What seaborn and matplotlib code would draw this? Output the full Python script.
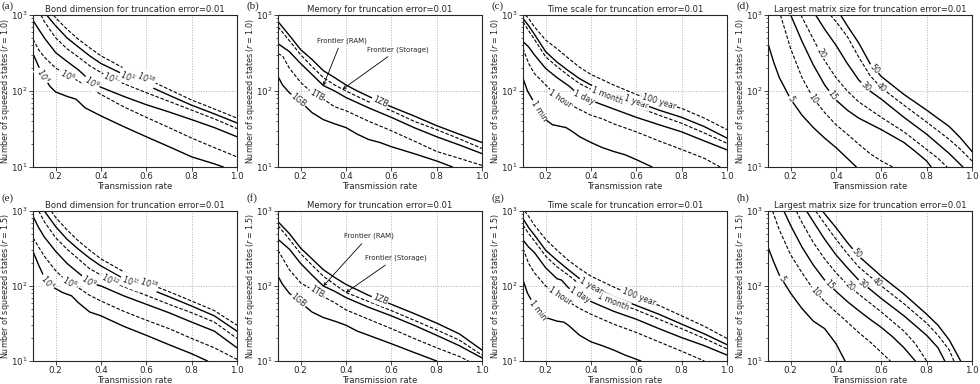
import numpy as np
import matplotlib
matplotlib.use("Agg")
import matplotlib.pyplot as plt
import seaborn as sns

# each curve: label -> (transmission rate, number of squeezed states)
# listed bottom to top, styles alternate solid / dashed

bond_r10 = {
    "$10^{4}$": ([0.1, 0.125, 0.15, 0.175, 0.2, 0.25, 0.29, 0.33, 0.4, 0.5, 0.6, 0.7, 0.8, 0.9, 0.94],
                 [310, 210, 150, 115, 97, 85, 78, 60, 47, 34, 25, 18.5, 13.6, 11, 10]),
    "$10^{6}$": ([0.1, 0.125, 0.15, 0.2, 0.25, 0.3, 0.35, 0.4, 0.5, 0.6, 0.7, 0.8, 0.9, 1.0],
                 [480, 350, 280, 200, 165, 135, 110, 90, 62, 45, 33, 24, 18, 13.6]),
    "$10^{9}$": ([0.1, 0.125, 0.15, 0.2, 0.25, 0.3, 0.36, 0.4, 0.5, 0.6, 0.7, 0.8, 0.9, 1.0],
                 [850, 650, 500, 320, 245, 190, 130, 112, 85, 66, 53, 42, 33, 25]),
    "$10^{12}$": ([0.135, 0.15, 0.2, 0.25, 0.3, 0.35, 0.4, 0.45, 0.5, 0.6, 0.7, 0.8, 0.9, 1.0],
                  [1000, 820, 500, 360, 280, 215, 175, 145, 125, 95, 73, 56, 43, 32]),
    "$10^{15}$": ([0.16, 0.2, 0.25, 0.3, 0.35, 0.4, 0.5, 0.6, 0.7, 0.8, 0.9, 1.0],
                  [1000, 720, 500, 380, 290, 230, 165, 120, 88, 65, 50, 38]),
    "$10^{18}$": ([0.19, 0.2, 0.25, 0.3, 0.35, 0.4, 0.5, 0.6, 0.7, 0.8, 0.9, 1.0],
                  [1000, 920, 650, 480, 370, 290, 200, 145, 105, 76, 58, 44]),
}
bond_r15 = {
    "$10^{4}$": ([0.1, 0.125, 0.15, 0.18, 0.2, 0.23, 0.27, 0.3, 0.35, 0.4, 0.5, 0.6, 0.7, 0.8, 0.87],
                 [290, 190, 130, 100, 92, 82, 74, 60, 45, 40, 29, 22, 16.5, 12.5, 10]),
    "$10^{6}$": ([0.1, 0.125, 0.15, 0.2, 0.25, 0.3, 0.35, 0.4, 0.5, 0.6, 0.7, 0.8, 0.9, 1.0],
                 [440, 330, 250, 160, 115, 95, 75, 63, 46, 35, 27, 20, 15, 10.5]),
    "$10^{9}$": ([0.1, 0.125, 0.15, 0.2, 0.25, 0.3, 0.35, 0.4, 0.5, 0.6, 0.7, 0.8, 0.9, 1.0],
                 [850, 600, 450, 290, 200, 150, 112, 100, 74, 57, 44, 33, 25, 15]),
    "$10^{12}$": ([0.125, 0.15, 0.2, 0.25, 0.3, 0.35, 0.4, 0.45, 0.5, 0.6, 0.7, 0.8, 0.9, 1.0],
                  [1000, 720, 440, 310, 230, 170, 140, 115, 98, 75, 57, 44, 33, 20]),
    "$10^{15}$": ([0.15, 0.2, 0.25, 0.3, 0.35, 0.4, 0.5, 0.6, 0.7, 0.8, 0.9, 1.0],
                  [1000, 620, 420, 310, 235, 185, 125, 95, 72, 54, 40, 25]),
    "$10^{18}$": ([0.18, 0.2, 0.25, 0.3, 0.35, 0.4, 0.5, 0.6, 0.7, 0.8, 0.9, 1.0],
                  [1000, 820, 560, 400, 300, 230, 155, 110, 84, 63, 47, 30]),
}
bond_label_x_r10 = [0.145, 0.255, 0.36, 0.45, 0.525, 0.6]
bond_label_x_r15 = [0.165, 0.26, 0.345, 0.44, 0.53, 0.61]

memory_r10 = {
    "1GB": ([0.1, 0.12, 0.15, 0.2, 0.25, 0.3, 0.35, 0.4, 0.45, 0.5, 0.55, 0.6, 0.7, 0.8, 0.87],
            [155, 120, 95, 72, 52, 42, 37, 33, 27, 23, 21, 18.5, 15, 12, 10]),
    "1TB": ([0.1, 0.12, 0.15, 0.2, 0.25, 0.3, 0.35, 0.4, 0.5, 0.6, 0.7, 0.8, 0.9, 1.0],
            [310, 290, 200, 130, 95, 78, 62, 55, 40, 30, 22, 16, 13, 10.5]),
    "RAM": ([0.1, 0.15, 0.2, 0.25, 0.3, 0.35, 0.4, 0.5, 0.6, 0.7, 0.8, 0.9, 1.0],
            [420, 330, 230, 165, 118, 100, 82, 60, 45, 33, 25, 19.5, 15]),
    "Storage": ([0.1, 0.15, 0.2, 0.25, 0.3, 0.35, 0.4, 0.5, 0.6, 0.7, 0.8, 0.9, 1.0],
                [700, 460, 300, 210, 150, 120, 100, 72, 55, 40, 31, 23.5, 17.5]),
    "1ZB": ([0.1, 0.15, 0.2, 0.25, 0.3, 0.35, 0.4, 0.45, 0.5, 0.55, 0.6, 0.7, 0.8, 0.9, 1.0],
            [820, 540, 350, 260, 185, 150, 120, 100, 85, 72, 62, 47, 35, 27, 21]),
}
memory_r15 = {
    "1GB": ([0.1, 0.12, 0.15, 0.2, 0.25, 0.3, 0.35, 0.4, 0.45, 0.5, 0.6, 0.7, 0.8],
            [135, 105, 80, 60, 45, 38, 34, 30, 25, 22, 17, 13, 10]),
    "1TB": ([0.1, 0.15, 0.2, 0.25, 0.3, 0.35, 0.4, 0.5, 0.6, 0.7, 0.8, 0.9, 0.94],
            [300, 165, 110, 90, 72, 60, 48, 36, 27, 20, 15, 11.5, 10]),
    "RAM": ([0.1, 0.15, 0.2, 0.25, 0.3, 0.35, 0.4, 0.5, 0.6, 0.7, 0.8, 0.9, 1.0],
            [420, 310, 200, 140, 100, 85, 70, 52, 40, 30, 22, 16, 11]),
    "Storage": ([0.1, 0.15, 0.2, 0.25, 0.3, 0.35, 0.4, 0.5, 0.6, 0.7, 0.8, 0.9, 1.0],
                [640, 420, 270, 190, 135, 105, 82, 62, 47, 35, 26, 19, 12]),
    "1ZB": ([0.1, 0.15, 0.2, 0.25, 0.3, 0.35, 0.4, 0.5, 0.6, 0.7, 0.8, 0.9, 1.0],
            [720, 500, 320, 230, 165, 130, 105, 75, 57, 43, 32, 23, 14]),
}
memory_label_x = [0.19, 0.27, None, None, 0.55]
frontier_r10 = {"ram_tip": 0.3, "ram_text": (0.38, 420), "storage_tip": 0.385, "storage_text": (0.63, 320)}
frontier_r15 = {"ram_tip": 0.3, "ram_text": (0.5, 420), "storage_tip": 0.4, "storage_text": (0.62, 215)}

time_r10 = {
    "1 min": ([0.1, 0.12, 0.15, 0.17, 0.2, 0.23, 0.25, 0.29, 0.32, 0.35, 0.4, 0.45, 0.5, 0.55, 0.6, 0.67],
              [147, 100, 70, 55, 42, 36, 35, 33, 29, 25, 21, 18, 16, 14.5, 12.5, 10]),
    "1 hour": ([0.1, 0.125, 0.15, 0.2, 0.25, 0.3, 0.35, 0.4, 0.45, 0.5, 0.6, 0.7, 0.8, 0.9, 0.97],
               [364, 230, 170, 120, 85, 68, 57, 48, 43, 37, 29, 22, 17, 13, 10]),
    "1 day": ([0.1, 0.125, 0.15, 0.2, 0.25, 0.3, 0.35, 0.4, 0.5, 0.6, 0.7, 0.8, 0.9, 1.0],
              [447, 380, 300, 198, 150, 118, 88, 75, 58, 45, 36, 29, 22, 16.8]),
    "1 month": ([0.1, 0.125, 0.15, 0.2, 0.25, 0.3, 0.35, 0.4, 0.5, 0.6, 0.7, 0.8, 0.9, 1.0],
                [816, 620, 480, 282, 210, 160, 125, 105, 80, 62, 48, 37.6, 28, 20.5]),
    "1 year": ([0.1, 0.125, 0.15, 0.2, 0.25, 0.3, 0.35, 0.4, 0.5, 0.6, 0.7, 0.8, 0.9, 1.0],
               [904, 720, 560, 329, 240, 185, 145, 120, 92, 72, 56, 45, 34, 24]),
    "100 year": ([0.11, 0.125, 0.15, 0.2, 0.25, 0.3, 0.35, 0.4, 0.5, 0.6, 0.7, 0.8, 0.9, 1.0],
                 [1000, 900, 700, 468, 360, 270, 205, 165, 120, 90, 72, 59, 44, 31]),
}
time_r15 = {
    "1 min": ([0.1, 0.12, 0.15, 0.18, 0.2, 0.25, 0.28, 0.3, 0.35, 0.4, 0.45, 0.5, 0.55, 0.62],
              [120, 80, 55, 42, 38, 34, 33, 30, 22, 18, 16, 14, 12, 10]),
    "1 hour": ([0.1, 0.125, 0.15, 0.2, 0.25, 0.3, 0.35, 0.4, 0.5, 0.6, 0.7, 0.8, 0.9],
               [315, 200, 150, 100, 78, 62, 50, 42, 31, 24, 18, 13.5, 10]),
    "1 day": ([0.1, 0.125, 0.15, 0.2, 0.25, 0.27, 0.3, 0.35, 0.4, 0.5, 0.6, 0.7, 0.8, 0.9, 1.0],
              [410, 330, 280, 175, 125, 120, 95, 75, 62, 46, 36, 27, 20.5, 16, 12]),
    "1 month": ([0.1, 0.125, 0.15, 0.2, 0.25, 0.3, 0.35, 0.4, 0.5, 0.6, 0.7, 0.8, 0.9, 1.0],
                [650, 500, 400, 250, 180, 140, 105, 85, 62, 48, 36, 27, 20, 14.5]),
    "1 year": ([0.1, 0.125, 0.15, 0.2, 0.25, 0.3, 0.35, 0.4, 0.5, 0.6, 0.7, 0.8, 0.9, 1.0],
               [790, 600, 480, 300, 220, 165, 125, 100, 72, 55, 42, 31, 23, 16.5]),
    "100 year": ([0.107, 0.125, 0.15, 0.2, 0.25, 0.3, 0.35, 0.4, 0.5, 0.6, 0.7, 0.8, 0.9, 1.0],
                 [1000, 850, 650, 420, 300, 220, 170, 135, 97, 72, 55, 40, 29, 20]),
}
time_label_x_r10 = [0.17, 0.265, 0.37, 0.47, 0.6, 0.7]
time_label_x_r15 = [0.165, 0.265, 0.35, 0.5, 0.4, 0.61]

matrix_r10 = {
    "5": ([0.1, 0.125, 0.15, 0.2, 0.25, 0.3, 0.35, 0.4, 0.45, 0.49],
          [420, 240, 150, 78, 48, 33, 24, 18, 13, 10]),
    "10": ([0.155, 0.2, 0.25, 0.3, 0.35, 0.4, 0.45, 0.5, 0.55, 0.6, 0.65],
           [1000, 360, 150, 80, 52, 36, 27, 20, 15, 12, 10]),
    "15": ([0.2, 0.25, 0.3, 0.35, 0.4, 0.45, 0.5, 0.6, 0.7, 0.75, 0.8, 0.82],
           [1000, 450, 220, 120, 76, 56, 44, 31, 21, 16, 12, 10]),
    "20": ([0.245, 0.3, 0.35, 0.4, 0.45, 0.5, 0.6, 0.7, 0.8, 0.85, 0.89],
           [1000, 480, 250, 150, 100, 72, 45, 29, 17, 13, 10]),
    "30": ([0.31, 0.35, 0.4, 0.45, 0.5, 0.55, 0.6, 0.7, 0.8, 0.9, 0.96],
           [1000, 650, 400, 230, 140, 100, 78, 45, 27, 15, 10]),
    "40": ([0.375, 0.4, 0.45, 0.5, 0.55, 0.6, 0.7, 0.8, 0.9, 0.95, 1.0],
           [1000, 820, 520, 280, 160, 110, 65, 39, 23, 17, 12]),
    "50": ([0.42, 0.45, 0.5, 0.55, 0.6, 0.7, 0.8, 0.9, 0.95, 1.0],
           [1000, 720, 430, 230, 155, 90, 56, 34, 24, 16]),
}
matrix_r15 = {
    "5": ([0.1, 0.125, 0.15, 0.2, 0.25, 0.3, 0.35, 0.4, 0.44],
          [330, 210, 140, 80, 50, 34, 27, 17, 10]),
    "10": ([0.12, 0.15, 0.2, 0.25, 0.3, 0.35, 0.4, 0.45, 0.5, 0.55, 0.6, 0.64],
           [1000, 560, 260, 150, 90, 62, 45, 33, 24, 18, 13, 10]),
    "15": ([0.17, 0.2, 0.25, 0.3, 0.35, 0.4, 0.45, 0.5, 0.55, 0.6, 0.65, 0.7, 0.75],
           [1000, 640, 330, 190, 120, 85, 62, 47, 36, 28, 21, 15, 10]),
    "20": ([0.225, 0.25, 0.3, 0.35, 0.4, 0.45, 0.5, 0.6, 0.7, 0.75, 0.8],
           [1000, 700, 380, 230, 150, 105, 78, 45, 25, 17, 10]),
    "30": ([0.27, 0.3, 0.35, 0.4, 0.45, 0.5, 0.6, 0.7, 0.8, 0.85, 0.88],
           [1000, 720, 420, 260, 175, 120, 68, 40, 22, 15, 10]),
    "40": ([0.31, 0.35, 0.4, 0.45, 0.5, 0.6, 0.7, 0.8, 0.85, 0.9, 0.92],
           [1000, 680, 420, 270, 180, 100, 58, 32, 22, 14, 10]),
    "50": ([0.34, 0.4, 0.45, 0.5, 0.6, 0.7, 0.8, 0.85, 0.9, 0.95],
           [1000, 600, 380, 250, 135, 78, 42, 30, 19, 10]),
}
matrix_label_x_r10 = [0.2, 0.3, 0.385, 0.333, 0.53, 0.6, 0.57]
matrix_label_x_r15 = [0.16, 0.31, 0.37, 0.46, 0.52, 0.58, 0.49]

titles = ["Bond dimension for truncation error=0.01", "Memory for truncation error=0.01",
          "Time scale for truncation error=0.01", "Largest matrix size for truncation error=0.01"]
letters = ["(a)", "(b)", "(c)", "(d)", "(e)", "(f)", "(g)", "(h)"]
r_values = ["1.0", "1.5"]

sns.set_style("ticks")
plt.rcParams["font.family"] = ["DejaVu Sans"]
plt.rcParams["axes.linewidth"] = 0.8

W, H = 980, 384
fig = plt.figure(figsize=(W / 100, H / 100), dpi=100)

LS = ["-", (0, (3.2, 1.6))]


def curve_y(xs, ys, x0):
    return 10 ** np.interp(x0, xs, np.log10(ys))


def put_label(ax, xs, ys, x0, text):
    y0 = curve_y(xs, ys, x0)
    p1 = ax.transData.transform((x0 - 0.012, curve_y(xs, ys, x0 - 0.012)))
    p2 = ax.transData.transform((x0 + 0.012, curve_y(xs, ys, x0 + 0.012)))
    ang = np.degrees(np.arctan2(p2[1] - p1[1], p2[0] - p1[0]))
    ax.text(x0, y0, text, rotation=ang, rotation_mode="anchor", ha="center", va="center",
            fontsize=5.7, zorder=4,
            bbox=dict(boxstyle="square,pad=0.12", fc="white", ec="none"))


def draw_panel(ax, curves, label_x, title, r):
    ax.set_yscale("log")
    ax.set_xlim(0.1, 1.0)
    ax.set_ylim(10, 1000)
    for i, (name, (xs, ys)) in enumerate(curves.items()):
        sns.lineplot(x=xs, y=ys, ax=ax, color="black", lw=1.0 if i % 2 == 0 else 0.8,
                     linestyle=LS[i % 2], estimator=None, sort=False)
    for (name, (xs, ys)), x0 in zip(curves.items(), label_x):
        if x0 is not None:
            put_label(ax, xs, ys, x0, name)
    ax.set_xticks([0.2, 0.4, 0.6, 0.8, 1.0])
    ax.grid(True, which="major", ls=":", color="#b0b0b0", lw=0.7)
    ax.tick_params(which="major", labelsize=6.3, length=2.8, width=0.6, pad=1)
    ax.tick_params(which="minor", length=1.6, width=0.5)
    ax.set_title(title, fontsize=6.1, pad=2)
    ax.set_xlabel("Transmission rate", fontsize=6.1, labelpad=0.5)
    ax.set_ylabel("Number of squeezed states ($r = %s$)" % r, fontsize=5.8)
    ax.yaxis.set_label_coords(-21 / 204, 0.5)
    for s in ax.spines.values():
        s.set_visible(True)


def draw_frontier(ax, curves, info):
    for key, tip_key, txt_key, text in [("RAM", "ram_tip", "ram_text", "Frontier (RAM)"),
                                       ("Storage", "storage_tip", "storage_text", "Frontier (Storage)")]:
        xs, ys = curves[key]
        xt = info[tip_key]
        ax.annotate(text, xy=(xt, curve_y(xs, ys, xt)), xytext=info[txt_key],
                    ha="center", va="bottom", fontsize=5.0,
                    arrowprops=dict(arrowstyle="->", lw=0.6, color="black", shrinkA=1, shrinkB=0))


panels = [
    (bond_r10, bond_label_x_r10), (memory_r10, memory_label_x), (time_r10, time_label_x_r10),
    (matrix_r10, matrix_label_x_r10),
    (bond_r15, bond_label_x_r15), (memory_r15, memory_label_x), (time_r15, time_label_x_r15),
    (matrix_r15, matrix_label_x_r15),
]
lefts = [33, 278, 523, 768]
rows = [(167, 152), (361, 150)]

for k, (curves, label_x) in enumerate(panels):
    row, col = divmod(k, 4)
    bottom_px, h_px = rows[row]
    ax = fig.add_axes([lefts[col] / W, 1 - bottom_px / H, 204 / W, h_px / H])
    draw_panel(ax, curves, label_x, titles[col], r_values[row])
    if col == 1:
        draw_frontier(ax, curves, frontier_r10 if row == 0 else frontier_r15)
    fig.text((col * 245 + 1) / W, 1 - (row * 192 + 1) / H, letters[k], ha="left", va="top",
             fontsize=8, family=["Liberation Serif", "DejaVu Serif"])

fig.savefig("out.png", dpi=100)
